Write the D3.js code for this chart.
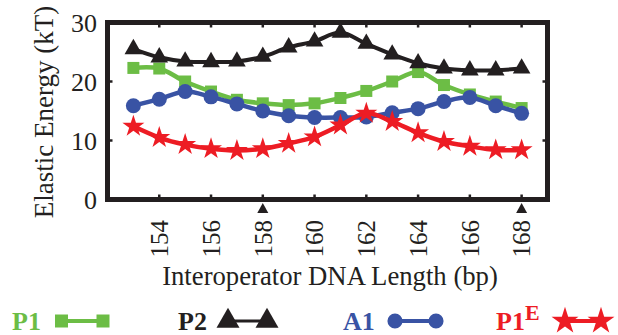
<!DOCTYPE html>
<html>
<head>
<meta charset="utf-8">
<script src="https://cdn.jsdelivr.net/npm/d3@7"></script>
<style>
  body { margin: 0; background: #fff; }
  #chart text { font-family: "Liberation Serif", "Tinos", "Times New Roman", serif; }
</style>
</head>
<body>
<svg id="chart" width="618" height="335"></svg>
<script>
// interoperator length (bp)
var lengths = [153, 154, 155, 156, 157, 158, 159, 160, 161, 162, 163, 164, 165, 166, 167, 168];

// elastic energy (kT)
var p1  = [22.3, 22.2, 20.0, 18.3, 16.9, 16.3, 16.0, 16.3, 17.2, 18.4, 20.0, 21.6, 19.4, 17.8, 16.6, 15.5];
var p2  = [25.5, 24.1, 23.4, 23.3, 23.4, 24.2, 25.8, 26.8, 28.3, 26.4, 24.6, 23.1, 22.2, 21.9, 21.9, 22.2];
var a1  = [15.9, 17.0, 18.3, 17.4, 16.2, 15.0, 14.2, 13.9, 13.9, 14.0, 14.7, 15.4, 16.6, 17.3, 15.9, 14.6];
var p1e = [12.4, 10.5, 9.3, 8.6, 8.3, 8.6, 9.5, 10.6, 12.6, 14.6, 13.2, 11.3, 9.8, 9.0, 8.4, 8.4];

var xTicks = [154, 156, 158, 160, 162, 164, 166, 168];
var yTicks = [0, 10, 20, 30];
var markedLengths = [158, 168];

var green = "#6cbd45", black = "#231f20", blue = "#3953a4", red = "#ed1c24";

var svg = d3.select("#chart");

var x = d3.scaleLinear().domain([152, 169]).range([107.5, 547.5]);
var y = d3.scaleLinear().domain([0, 30]).range([199.5, 22.5]);

// series, drawn in this order (green under black under blue under red)
var series = [
  {name: "P1", values: p1, color: green, symbol: d3.symbolSquare, size: 144, lw: 4.5},
  {name: "P2", values: p2, color: black, symbol: d3.symbolTriangle, size: 135, lw: 4},
  {name: "A1", values: a1, color: blue, symbol: d3.symbolCircle, size: 177, lw: 4.5},
  {name: "P1E", values: p1e, color: red, symbol: d3.symbolStar, size: 150, lw: 4.5}
];

var line = d3.line()
  .x(d => x(d[0]))
  .y(d => y(d[1]))
  .curve(d3.curveCatmullRom);

series.forEach(function(s) {
  var pts = lengths.map((l, i) => [l, s.values[i]]);
  svg.append("path")
    .attr("d", line(pts))
    .attr("fill", "none")
    .attr("stroke", s.color)
    .attr("stroke-width", s.lw);
  svg.selectAll(null)
    .data(pts).enter()
    .append("path")
    .attr("d", d3.symbol(s.symbol, s.size))
    .attr("transform", d => "translate(" + x(d[0]) + "," + y(d[1]) + ")")
    .attr("fill", s.color);
});

// frame
svg.append("rect")
  .attr("x", x.range()[0]).attr("y", y.range()[1])
  .attr("width", x.range()[1] - x.range()[0])
  .attr("height", y.range()[0] - y.range()[1])
  .attr("fill", "none")
  .attr("stroke", black)
  .attr("stroke-width", 5);

// inner ticks on all four sides
var tk = 5;
xTicks.forEach(function(t) {
  svg.append("line").attr("x1", x(t)).attr("x2", x(t))
    .attr("y1", y(0)).attr("y2", y(0) - tk).attr("stroke", black).attr("stroke-width", 2.5);
  svg.append("line").attr("x1", x(t)).attr("x2", x(t))
    .attr("y1", y(30)).attr("y2", y(30) + tk).attr("stroke", black).attr("stroke-width", 2.5);
});
yTicks.forEach(function(t) {
  svg.append("line").attr("x1", x(152)).attr("x2", x(152) + tk)
    .attr("y1", y(t)).attr("y2", y(t)).attr("stroke", black).attr("stroke-width", 2.5);
  svg.append("line").attr("x1", x(169)).attr("x2", x(169) - tk)
    .attr("y1", y(t)).attr("y2", y(t)).attr("stroke", black).attr("stroke-width", 2.5);
});

// y tick labels
svg.selectAll(".ylab")
  .data(yTicks).enter()
  .append("text")
  .attr("x", 97)
  .attr("y", d => y(d))
  .attr("dy", "0.35em")
  .attr("text-anchor", "end")
  .attr("font-size", 26)
  .attr("fill", black)
  .text(d => d);

// x tick labels, rotated
svg.selectAll(".xlab")
  .data(xTicks).enter()
  .append("text")
  .attr("transform", d => "translate(" + x(d) + ",220) rotate(-90)")
  .attr("dy", "0.35em")
  .attr("text-anchor", "end")
  .attr("font-size", 25)
  .attr("fill", black)
  .text(d => d);

// little arrow heads under the axis
svg.selectAll(".mark")
  .data(markedLengths).enter()
  .append("path")
  .attr("d", "M0,-5L5.5,5L-5.5,5Z")
  .attr("transform", d => "translate(" + x(d) + ",208)")
  .attr("fill", black);

// axis titles
svg.append("text")
  .attr("x", 330).attr("y", 285)
  .attr("text-anchor", "middle")
  .attr("font-size", 26.7)
  .attr("fill", black)
  .text("Interoperator DNA Length (bp)");

svg.append("text")
  .attr("transform", "translate(53,112) rotate(-90)")
  .attr("text-anchor", "middle")
  .attr("font-size", 27)
  .attr("fill", black)
  .text("Elastic Energy (kT)");

// legend
var legendX = [12, 178, 343, 496];
var legendMarks = [[61.5, 103], [228, 267], [395, 436], [565, 601]];
var legendSizes = [169, 229, 180, 225];
series.forEach(function(s, i) {
  var g = svg.append("g");
  var t = g.append("text")
    .attr("x", legendX[i]).attr("y", 330)
    .attr("font-size", 26)
    .attr("font-weight", "bold")
    .attr("fill", s.color);
  if (s.name === "P1E") {
    t.append("tspan").text("P1");
    t.append("tspan").attr("font-size", 22).attr("dy", -10).text("E");
  } else {
    t.text(s.name);
  }
  var m = legendMarks[i];
  g.append("line")
    .attr("x1", m[0]).attr("x2", m[1])
    .attr("y1", 321).attr("y2", 321)
    .attr("stroke", s.color)
    .attr("stroke-width", s.name === "P2" ? 3 : 4);
  m.forEach(function(mx) {
    g.append("path")
      .attr("d", d3.symbol(s.symbol, legendSizes[i]))
      .attr("transform", "translate(" + mx + ",321)")
      .attr("fill", s.color);
  });
});
</script>
</body>
</html>
